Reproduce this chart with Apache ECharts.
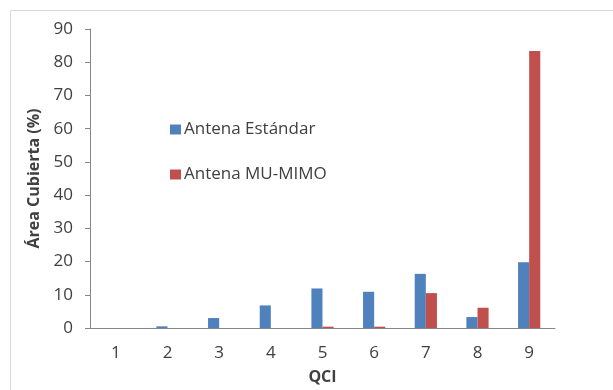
<!DOCTYPE html>
<html>
<head>
<meta charset="utf-8">
<script src="https://cdn.jsdelivr.net/npm/echarts@6/dist/echarts.min.js"></script>
<style>
  html, body { margin: 0; padding: 0; background: #fff; }
  #chart { width: 613px; height: 390px; }
</style>
</head>
<body>
<div id="chart"></div>
<script>
// QCI categories and covered area (%) per antenna type
const categories = ['1', '2', '3', '4', '5', '6', '7', '8', '9'];
const standardAntenna = [0, 0.5, 3.0, 6.8, 11.9, 10.9, 16.3, 3.3, 19.8];
const muMimoAntenna = [0, 0, 0, 0, 0.4, 0.4, 10.5, 6.1, 83.4];
const yTicks = { min: 0, max: 90, interval: 10 };

const FONT = '"Open Sans", "Noto Sans", sans-serif';
const TEXT = '#404040';

const chart = echarts.init(document.getElementById('chart'), null, { renderer: 'canvas' });
chart.setOption({
  animation: false,
  backgroundColor: '#fff',
  graphic: [{
    type: 'rect',
    shape: { x: 10.5, y: 10.5, width: 640, height: 400 },
    style: { fill: 'none', stroke: '#d9d9d9', lineWidth: 1 },
    silent: true
  }],
  grid: { left: 90, right: 58, top: 29, bottom: 61, containLabel: false },
  legend: {
    orient: 'vertical',
    left: 165,
    top: 116,
    itemWidth: 11,
    itemHeight: 10,
    itemGap: 28,
    icon: 'rect',
    textStyle: { fontFamily: FONT, fontSize: 17, color: TEXT, padding: [0, 0, 0, -2] },
    data: ['Antena Estándar', 'Antena MU-MIMO']
  },
  xAxis: {
    type: 'category',
    data: categories,
    name: 'QCI',
    nameLocation: 'middle',
    nameGap: 41,
    nameTextStyle: { fontFamily: FONT, fontSize: 16, fontWeight: 'bold', color: TEXT },
    axisLine: { lineStyle: { color: '#868686', width: 1 } },
    axisTick: { show: false },
    axisLabel: { fontFamily: FONT, fontSize: 17, color: TEXT, margin: 17 }
  },
  yAxis: {
    type: 'value',
    min: yTicks.min,
    max: yTicks.max,
    interval: yTicks.interval,
    name: 'Área Cubierta (%)',
    nameLocation: 'middle',
    nameGap: 47,
    nameTextStyle: { fontFamily: FONT, fontSize: 16, fontWeight: 'bold', color: TEXT },
    axisLine: { show: true, lineStyle: { color: '#868686', width: 1 } },
    axisTick: { show: true, length: 5, lineStyle: { color: '#868686' } },
    splitLine: { show: false },
    axisLabel: { fontFamily: FONT, fontSize: 17, color: TEXT, margin: 17 }
  },
  series: [
    {
      name: 'Antena Estándar',
      type: 'bar',
      data: standardAntenna,
      itemStyle: { color: '#4F81BD' },
      barGap: '0%',
      barCategoryGap: '57%'
    },
    {
      name: 'Antena MU-MIMO',
      type: 'bar',
      data: muMimoAntenna,
      itemStyle: { color: '#C0504D' },
      barGap: '0%',
      barCategoryGap: '57%'
    }
  ]
});
</script>
</body>
</html>
